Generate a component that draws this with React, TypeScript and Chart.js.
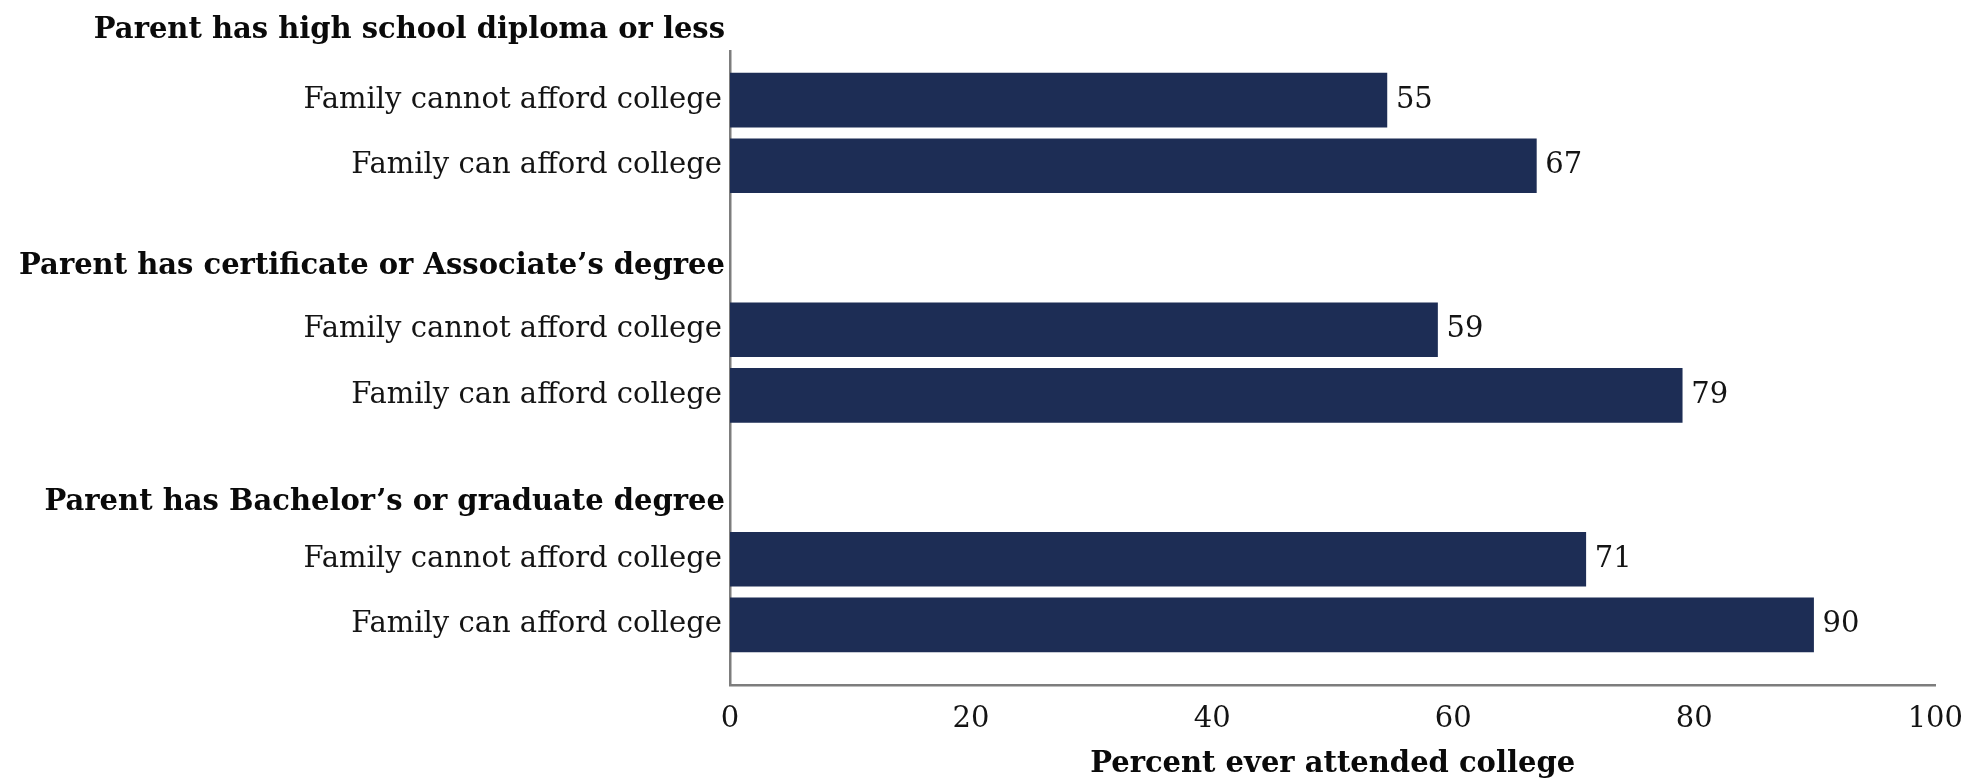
import React, { useEffect, useRef } from "react";
import { Chart, registerables } from "chart.js";

Chart.register(...registerables);

// ---- data ----
const groupTitles = [
  "Parent has high school diploma or less",
  "Parent has certificate or Associate\u2019s degree",
  "Parent has Bachelor\u2019s or graduate degree",
];
const rowLabels = ["Family cannot afford college", "Family can afford college"];
const cannotAfford = [54.5, 58.7, 71];
const canAfford = [66.9, 79, 89.9];
const xTickValues = [0, 20, 40, 60, 80, 100];
const xAxisTitle = "Percent ever attended college";

// ---- style / layout ----
const FONT = "'DejaVu Serif', serif";
const LABEL_SIZE = 29;
const BAR_COLOR = "#1d2d55";
const TEXT_COLOR = "#141414";
const AXIS_COLOR = "#7d7d7d";

const LEAD_SLOTS = 4;
const ROW_STEP = 6;
const GROUP_STEP = 21;
const TAIL_SLOTS = 6;
const HEADER_FIRST = -2.4;
const HEADER_STEP = 21.6;

const slotLabels: string[] = [];
const slotValues: (number | null)[] = [];
const lastSlot = LEAD_SLOTS + (groupTitles.length - 1) * GROUP_STEP + ROW_STEP;
const slotCount = lastSlot + TAIL_SLOTS;
for (let i = 0; i < slotCount; i++) {
  slotLabels.push("");
  slotValues.push(null);
}
groupTitles.forEach((_, g) => {
  const first = LEAD_SLOTS + g * GROUP_STEP;
  const second = first + ROW_STEP;
  slotLabels[first] = rowLabels[0];
  slotValues[first] = cannotAfford[g];
  slotLabels[second] = rowLabels[1];
  slotValues[second] = canAfford[g];
});

const valueLabelPlugin = {
  id: "valueLabels",
  afterDatasetsDraw(chart: any) {
    const ctx = chart.ctx;
    const meta = chart.getDatasetMeta(0);
    ctx.save();
    ctx.font = `${LABEL_SIZE}px ${FONT}`;
    ctx.fillStyle = TEXT_COLOR;
    ctx.textAlign = "left";
    ctx.textBaseline = "middle";
    meta.data.forEach((bar: any, i: number) => {
      const v = slotValues[i];
      if (v == null) return;
      ctx.fillText(String(Math.round(v)), bar.x + 9, bar.y);
    });
    ctx.restore();
  },
};

const headerPlugin = {
  id: "groupHeaders",
  afterDraw(chart: any) {
    const ctx = chart.ctx;
    const yScale = chart.scales.y;
    ctx.save();
    ctx.font = `bold ${LABEL_SIZE}px ${FONT}`;
    ctx.fillStyle = "#0a0a0a";
    ctx.textAlign = "right";
    ctx.textBaseline = "middle";
    groupTitles.forEach((t, g) => {
      const y = yScale.getPixelForValue(HEADER_FIRST + g * HEADER_STEP);
      ctx.fillText(t, chart.chartArea.left - 5, y);
    });
    ctx.restore();
  },
};

export default function App() {
  const ref = useRef<HTMLCanvasElement | null>(null);
  useEffect(() => {
    if (!ref.current) return;
    const chart = new Chart(ref.current, {
      type: "bar",
      data: {
        labels: slotLabels,
        datasets: [
          {
            data: slotValues as any,
            backgroundColor: BAR_COLOR,
            borderWidth: 0,
            barThickness: 54,
          },
        ],
      },
      options: {
        indexAxis: "y",
        responsive: false,
        animation: false,
        devicePixelRatio: 1,
        layout: { padding: { top: 51, right: 40, bottom: 0, left: 0 } },
        plugins: {
          legend: { display: false },
          tooltip: { enabled: false },
        },
        scales: {
          x: {
            type: "linear",
            position: "bottom",
            min: 0,
            max: 100,
            afterBuildTicks: (s: any) => {
              s.ticks = xTickValues.map((v) => ({ value: v }));
            },
            afterFit: (s: any) => {
              s.height = 97;
            },
            grid: { display: false, drawTicks: false },
            border: { display: true, color: AXIS_COLOR, width: 2.5 },
            ticks: {
              padding: 17,
              color: TEXT_COLOR,
              font: { family: FONT, size: LABEL_SIZE },
            },
            title: {
              display: true,
              text: xAxisTitle,
              color: "#0a0a0a",
              padding: 0,
              font: { family: FONT, size: LABEL_SIZE, weight: "bold" },
            },
          },
          y: {
            type: "category",
            afterFit: (s: any) => {
              s.width = 730;
            },
            grid: { display: false, drawTicks: false },
            border: { display: true, color: AXIS_COLOR, width: 2.5 },
            ticks: {
              autoSkip: false,
              padding: 8,
              color: TEXT_COLOR,
              font: { family: FONT, size: LABEL_SIZE },
            },
          },
        },
      },
      plugins: [valueLabelPlugin, headerPlugin],
    });
    return () => chart.destroy();
  }, []);
  return (
    <div style={{ position: "fixed", left: 0, top: 0, width: 1980, height: 782, background: "#fff" }}>
      <canvas ref={ref} width={1980} height={782} style={{ width: 1980, height: 782 }} />
    </div>
  );
}
